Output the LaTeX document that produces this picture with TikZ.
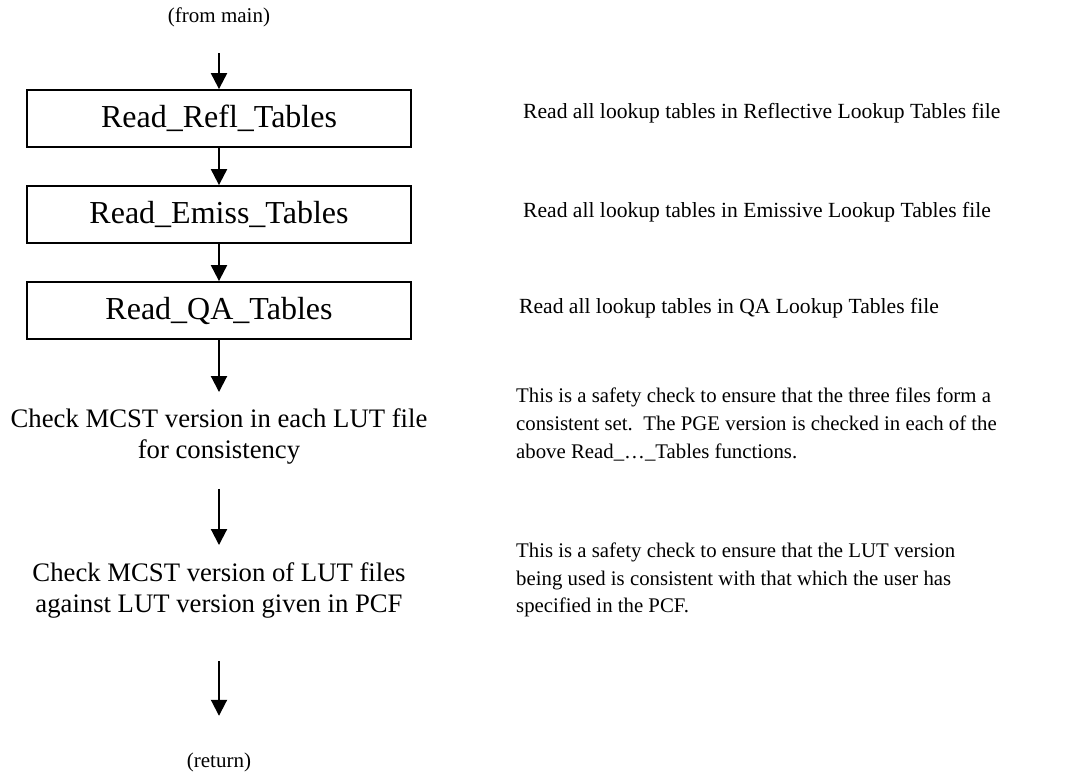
\documentclass[tikz,border=0pt]{standalone}
\usepackage{fontspec}
\setmainfont{Liberation Serif}
\usetikzlibrary{arrows.meta}
\tikzset{
  procbox/.style={draw, line width=1.8pt, minimum width=384pt, minimum height=57pt,
    inner sep=0pt, font=\fontsize{32}{37}\selectfont},
  stepnote/.style={inner sep=0pt, align=center, font=\fontsize{26.7}{31}\selectfont},
  endlabel/.style={inner sep=0pt, font=\fontsize{21}{24}\selectfont},
  remark/.style={inner sep=0pt, anchor=west, font=\fontsize{21.6}{28}\selectfont},
  para/.style={inner sep=0pt, anchor=north west, align=left, font=\fontsize{20.8}{28}\selectfont},
  flow/.style={line width=2pt, -{Triangle[width=16pt,length=16pt]}}
}
\begin{document}
\begin{tikzpicture}[x=1pt,y=-1pt]
\useasboundingbox (0,0) rectangle (1083,774);

% main column
\node[endlabel] (start) at (219,17.5) {(from main)};
\node[procbox] (refl) at (219,118.5) {Read\_Refl\_Tables};
\node[procbox] (emiss) at (219,214.5) {Read\_Emiss\_Tables};
\node[procbox] (qa) at (219,310.5) {Read\_QA\_Tables};
\node[stepnote] (chk1) at (219,436) {Check MCST version in each LUT file\\for consistency};
\node[stepnote] (chk2) at (219,590) {Check MCST version of LUT files\\against LUT version given in PCF};
\node[endlabel] (ret) at (219,762.5) {(return)};

% connectors
\draw[flow, shorten <=26pt] (start) -- (refl);
\draw[flow] (refl) -- (emiss);
\draw[flow] (emiss) -- (qa);
\draw[flow, shorten >=16pt] (qa) -- (chk1);
\draw[flow, shorten <=25pt, shorten >=17pt] (chk1) -- (chk2);
\draw[flow, shorten <=43.5pt, shorten >=37pt] (chk2) -- (ret);

% explanations
\node[remark] (r1) at (523,113) {Read all lookup tables in Reflective Lookup Tables file};
\node[remark] (r2) at (523,212) {Read all lookup tables in Emissive Lookup Tables file};
\node[remark] (r3) at (519,308) {Read all lookup tables in QA Lookup Tables file};
\node[para] (p1) at (516,388) {This is a safety check to ensure that the three files form a\\consistent set.\ \ The PGE version is checked in each of the\\above Read\_\dots\_Tables functions.};
\node[para, font=\fontsize{20.8}{27.5}\selectfont] (p2) at (516,543) {This is a safety check to ensure that the LUT version\\being used is consistent with that which the user has\\specified in the PCF.};
\end{tikzpicture}
\end{document}
